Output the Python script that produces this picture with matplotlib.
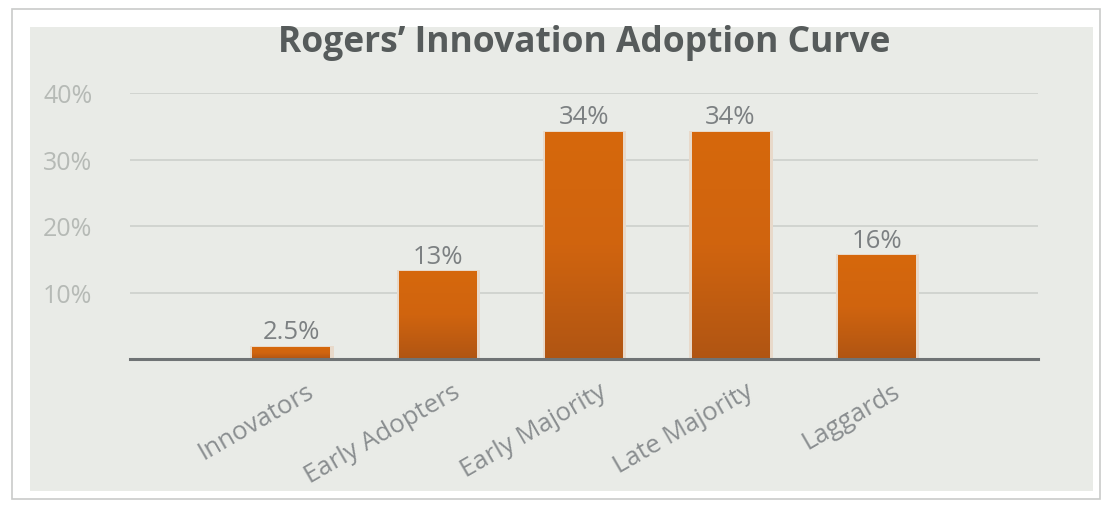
import numpy as np
import matplotlib
matplotlib.use("Agg")
import matplotlib.pyplot as plt
from matplotlib.patches import Rectangle
from matplotlib.colors import LinearSegmentedColormap

# data
categories = ["Innovators", "Early Adopters", "Early Majority", "Late Majority", "Laggards"]
heights = [1.7, 13.1, 34.1, 34.1, 15.5]
value_labels = ["2.5%", "13%", "34%", "34%", "16%"]
yticks = [10, 20, 30, 40]
ytick_labels = ["10%", "20%", "30%", "40%"]

plt.rcParams['font.family'] = ['Open Sans', 'DejaVu Sans']

fig = plt.figure(figsize=(11.05, 5.06), dpi=100)
fig.patch.set_facecolor("white")

# outer frame and gray panel
fig.patches.append(Rectangle((12/1105, 1-500/506), 1088/1105, 490/506, transform=fig.transFigure,
                             facecolor="white", edgecolor="#c9cbc9", lw=1.2, zorder=-10))
fig.patches.append(Rectangle((30/1105, 1-492/506), 1063/1105, 464/506, transform=fig.transFigure,
                             facecolor="#e9ebe7", edgecolor="none", zorder=-9))

ax = fig.add_axes([130/1105, 1-360/506, 908/1105, 266/506])
ax.set_zorder(1)
ax.set_facecolor("none")
x = np.arange(len(categories))
width = 0.53

cmap = LinearSegmentedColormap.from_list("bar", ["#b05513", "#d0640f", "#d6680c"])
grad = np.linspace(0, 1, 256).reshape(-1, 1)
for xi, h in zip(x, heights):
    # soft shadow
    ax.add_patch(Rectangle((xi - width/2 - 0.015, 0), width + 0.04, h + 0.25,
                           facecolor="#e8d9ca", edgecolor="none", zorder=1))
    ax.imshow(grad, extent=(xi - width/2, xi + width/2, 0, h), origin="lower",
              cmap=cmap, aspect="auto", zorder=2)

for xi, h, lab in zip(x, heights, value_labels):
    ax.text(xi, h + 0.5, lab, ha="center", va="bottom", fontsize=18.5, color="#7c8082", zorder=3)

ax.set_xlim(-1.1, 5.1)
ax.set_ylim(0, 40)
ax.set_yticks(yticks)
ax.set_yticklabels(ytick_labels, fontsize=18, color="#b6bab6")
ax.tick_params(axis="y", length=0, pad=27)
ax.grid(axis="y", color="#cdd0cc", lw=1.2, zorder=0)
ax.set_axisbelow(True)
for s in ["top", "right", "left"]:
    ax.spines[s].set_visible(False)
ax.spines["bottom"].set_color("#6f7375")
ax.spines["bottom"].set_linewidth(2.2)
ax.spines["bottom"].set_zorder(4)

ax.set_xticks(x + 0.1)
ax.set_xticklabels(categories, rotation=30, ha="right", rotation_mode="anchor",
                   fontsize=18.5, color="#8a8e90")
ax.tick_params(axis="x", length=0, pad=14)

fig.text(584/1105, 1-43/506, "Rogers\u2019 Innovation Adoption Curve", ha="center", va="center",
         fontsize=25.5, fontweight="bold", color="#565b5b")

plt.savefig("out.png", dpi=100)
